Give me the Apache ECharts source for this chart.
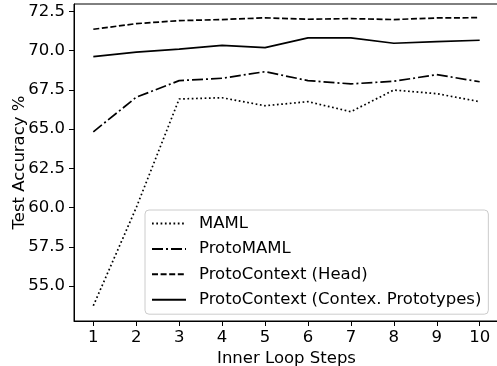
<!DOCTYPE html>
<html>
<head>
<meta charset="utf-8">
<script src="https://cdn.jsdelivr.net/npm/echarts@6/dist/echarts.min.js"></script>
<style>
  html, body { margin: 0; padding: 0; background: #fff; }
  #chart { width: 497px; height: 366px; }
</style>
</head>
<body>
<div id="chart"></div>
<script>
// inner loop steps
var steps = [1, 2, 3, 4, 5, 6, 7, 8, 9, 10];
var yTicks = [55.0, 57.5, 60.0, 62.5, 65.0, 67.5, 70.0, 72.5];

var maml = [53.75, 60.0, 66.92, 67.0, 66.49, 66.75, 66.11, 67.49, 67.26, 66.75];
var protoMaml = [64.83, 67.03, 68.09, 68.24, 68.66, 68.09, 67.88, 68.05, 68.47, 68.02];
var protoHead = [71.36, 71.72, 71.91, 71.98, 72.09, 72.0, 72.04, 71.98, 72.08, 72.1];
var protoCtx = [69.62, 69.9, 70.1, 70.34, 70.19, 70.81, 70.81, 70.47, 70.57, 70.66];

function pairs(vals) {
    return steps.map(function (s, i) { return [s, vals[i]]; });
}

var font = 'DejaVu Sans';
var fs = 16.5;
var myChart = echarts.init(document.getElementById('chart'));

function lineSeries(name, vals, dash) {
    return {
        name: name,
        type: 'line',
        data: pairs(vals),
        symbol: 'none',
        color: '#000',
        animation: false,
        lineStyle: { color: '#000', width: 1.7, type: dash }
    };
}

var option = {
    backgroundColor: '#fff',
    animation: false,
    grid: {
        left: 74, top: 4, right: -2, bottom: 45,
        outerBoundsMode: 'none',
        show: true, borderColor: '#000', borderWidth: 1,
        backgroundColor: 'transparent'
    },
    legend: {
        orient: 'vertical',
        left: 145, top: 210,
        padding: [5, 7, 6, 6],
        itemWidth: 34, itemHeight: 14, itemGap: 8.4,
        itemStyle: { opacity: 0 },
        backgroundColor: 'rgba(255,255,255,0.8)',
        borderColor: '#cccccc', borderWidth: 1, borderRadius: 4,
        textStyle: { fontFamily: font, fontSize: fs, color: '#000', padding: [0, 0, 0, 8] },
        data: ['MAML', 'ProtoMAML', 'ProtoContext (Head)', 'ProtoContext (Contex. Prototypes)']
    },
    xAxis: {
        type: 'value',
        min: 0.55, max: 10.45,
        name: 'Inner Loop Steps',
        nameLocation: 'middle', nameGap: 29, nameMoveOverlap: false,
        nameTextStyle: { fontFamily: font, fontSize: fs, color: '#000' },
        axisLine: { onZero: false, lineStyle: { color: '#000', width: 1 } },
        axisTick: { show: true, length: 5, customValues: steps, lineStyle: { color: '#000' } },
        axisLabel: { customValues: steps, margin: 8, fontFamily: font, fontSize: fs, color: '#000' },
        splitLine: { show: false }
    },
    yAxis: {
        type: 'value',
        min: 52.78, max: 72.97,
        name: 'Test Accuracy %',
        nameLocation: 'middle', nameGap: 46, nameMoveOverlap: false,
        nameTextStyle: { fontFamily: font, fontSize: fs, color: '#000' },
        axisLine: { show: true, onZero: false, lineStyle: { color: '#000', width: 1 } },
        axisTick: { show: true, length: 5, customValues: yTicks, lineStyle: { color: '#000' } },
        axisLabel: {
            customValues: yTicks, margin: 9, fontFamily: font, fontSize: fs, color: '#000',
            formatter: function (v) { return v.toFixed(1); }
        },
        splitLine: { show: false }
    },
    series: [
        lineSeries('MAML', maml, [1.7, 2.6]),
        lineSeries('ProtoMAML', protoMaml, [11, 3, 2, 3]),
        lineSeries('ProtoContext (Head)', protoHead, [6, 2.6]),
        lineSeries('ProtoContext (Contex. Prototypes)', protoCtx, 'solid')
    ]
};

myChart.setOption(option);
window.addEventListener('resize', function () { myChart.resize(); });
</script>
</body>
</html>
